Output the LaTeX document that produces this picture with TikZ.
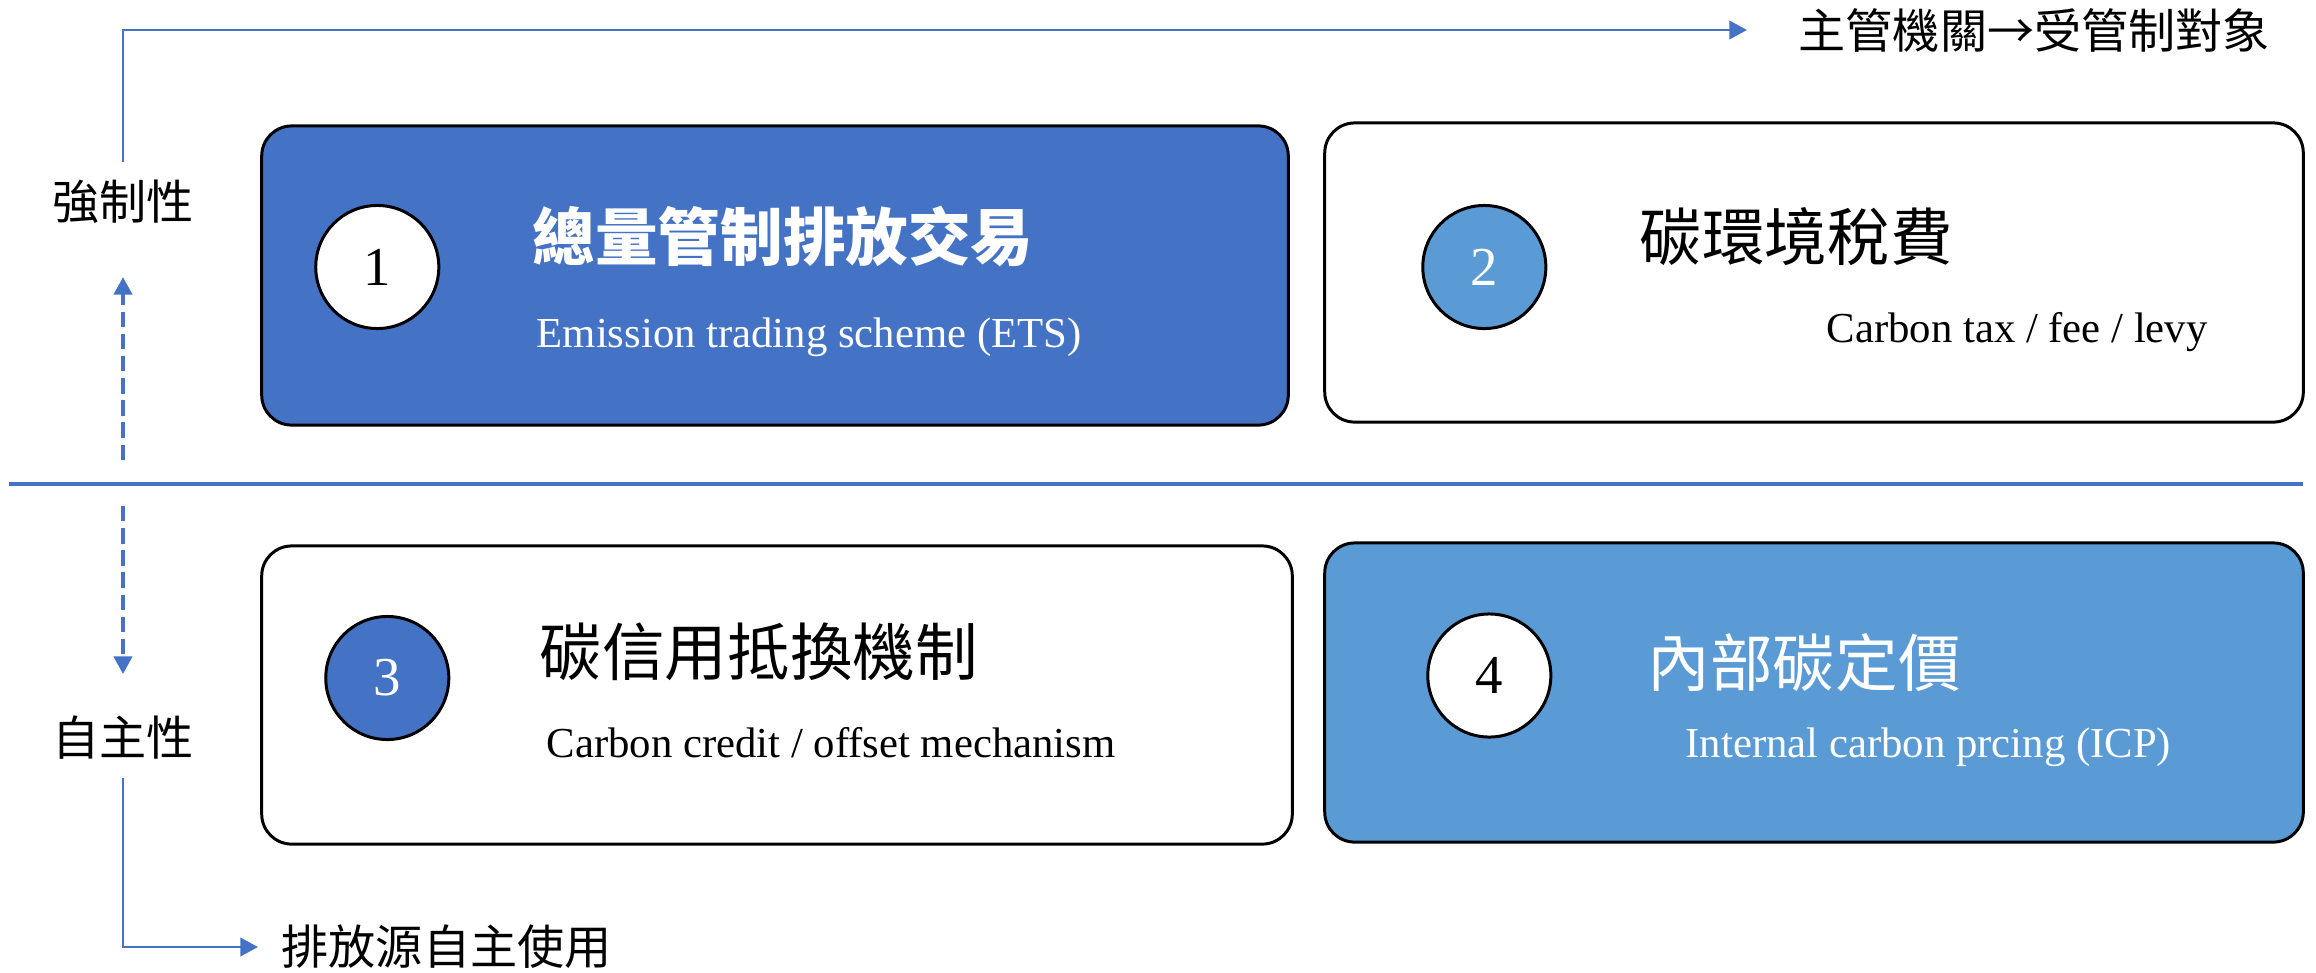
\documentclass[tikz,border=0pt]{standalone}
\usepackage{fontspec}
\setmainfont{Liberation Serif}
\newfontfamily\cjk{Noto Sans CJK TC}
\usepackage{tikz}
\usetikzlibrary{positioning,calc,arrows.meta}
\definecolor{etsblue}{HTML}{4472C4}
\definecolor{icpblue}{HTML}{5B9BD5}
\tikzset{
  rectnodes/.style args={#1,#2}{
  draw=black,
  rounded corners=0.3cm,
  line width=0.85pt,
  inner sep=0pt,
  minimum width=#1 cm,
  minimum height=#2 cm,
  },
  numplace/.style={circle,draw=black,line width=0.85pt,minimum size=1.23cm,
   inner sep=0pt,font=\fontsize{15.6}{16}\selectfont},
  headtext/.style={anchor=west,inner sep=0pt,font=\cjk\fontsize{17.8}{18}\selectfont},
  subtext/.style={anchor=base west,inner sep=0pt,font=\fontsize{12.15}{13}\selectfont},
  sidetext/.style={inner sep=5pt,font=\cjk\fontsize{13.4}{14}\selectfont},
  bluearrow/.style={draw=etsblue,line width=0.8pt,-{Triangle[length=5pt,width=5.2pt]}},
  dasharrow/.style={bluearrow,line width=1pt,dash pattern=on 4.4pt off 1.9pt}
}

\begin{document}
\begin{tikzpicture}[x=0.01cm,y=-0.01cm]
  \useasboundingbox (0,0) rectangle (2316,972);

  \node [rectnodes={10.26,2.99},fill=etsblue] (rec1) at (775,275.5) {};
  \node [rectnodes={9.78,2.99}] (rec2) at (1814,272.5) {};
  \node [rectnodes={10.30,2.98}] (rec3) at (777,695) {};
  \node [rectnodes={9.78,2.99},fill=icpblue] (rec4) at (1814,692.5) {};

  \node [numplace,fill=white,right=0.54cm of rec1.west,yshift=0.085cm] (n1) {1};
  \node [numplace,fill=icpblue,text=white,right=0.98cm of rec2.west,yshift=0.055cm] (n2) {2};
  \node [numplace,fill=etsblue,text=white,right=0.64cm of rec3.west,yshift=0.17cm] (n3) {3};
  \node [numplace,fill=white,right=1.03cm of rec4.west,yshift=0.17cm] (n4) {4};

  \node [headtext,text=white,font=\cjk\bfseries\fontsize{17.8}{18}\selectfont] (t1) at (532,237) {總量管制排放交易};
  \node [headtext] (t2) at (1639,237) {碳環境稅費};
  \node [headtext] (t3) at (539,652) {碳信用抵換機制};
  \node [headtext,text=white] (t4) at (1647,663) {內部碳定價};

  \node [subtext,text=white] (s1) at (536,347) {Emission trading scheme (ETS)};
  \node [subtext] (s2) at (1826,342) {Carbon tax / fee / levy};
  \node [subtext] (s3) at (546,757) {Carbon credit / offset mechanism};
  \node [subtext,text=white] (s4) at (1685,757) {Internal carbon prcing (ICP)};

  \node [sidetext] (force) at (123,202) {強制性};
  \node [sidetext] (self) at (123,738) {自主性};
  \node [sidetext,anchor=west,inner sep=0pt] (gov) at (1798,30) {主管機關→受管制對象};
  \node [sidetext,anchor=west,inner sep=0pt] (src) at (281,947) {排放源自主使用};

  \coordinate (dl) at (9,484);
  \coordinate (dr) at (2303,484);
  \coordinate (up0) at (123,460);
  \coordinate (dn0) at (123,506);

  \draw [etsblue,line width=1.1pt] (dl) -- (dr);
  \draw [bluearrow] (force.north) |- ([xshift=-0.51cm]gov.west);
  \draw [bluearrow] (self.south) |- ([xshift=-0.23cm]src.west);
  \draw [dasharrow] (up0) -- ([yshift=-0.35cm]force.south);
  \draw [dasharrow] (dn0) -- ([yshift=0.24cm]self.north);

\end{tikzpicture}
\end{document}
